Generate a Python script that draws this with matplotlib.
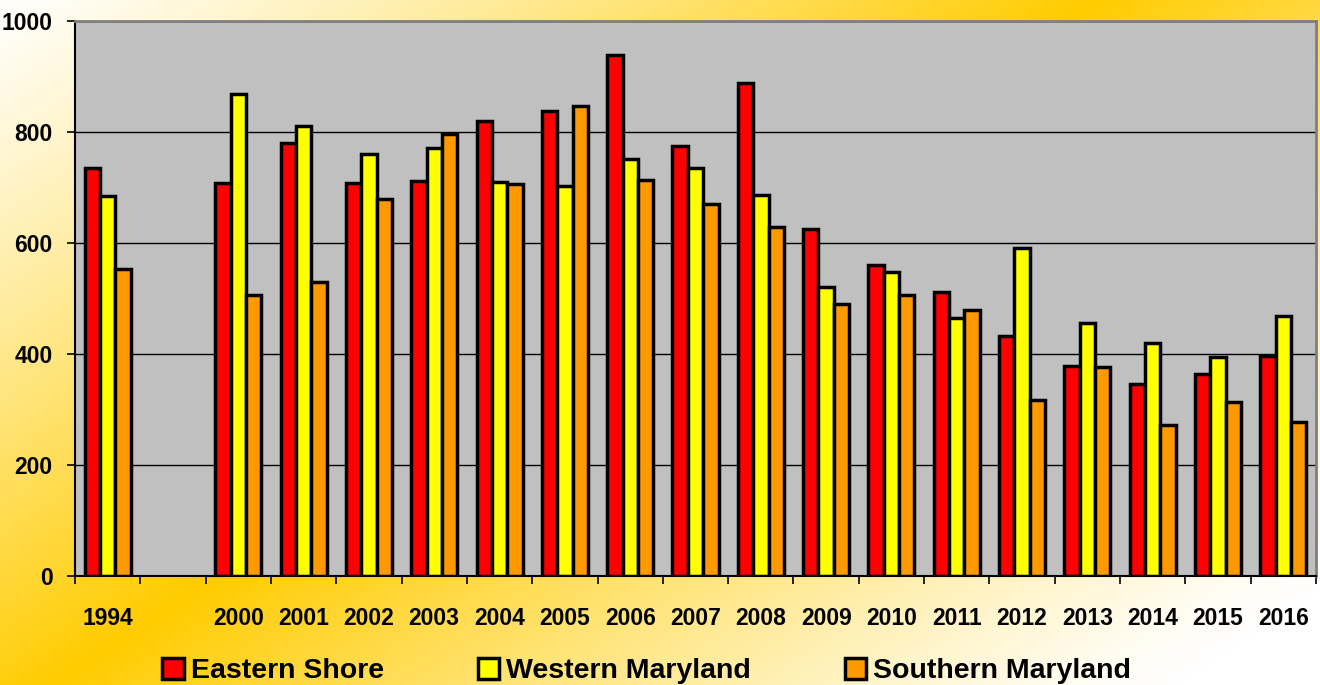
import matplotlib
matplotlib.use("Agg")
import matplotlib.pyplot as plt
import numpy as np
from matplotlib.patches import Patch
from matplotlib.ticker import FixedLocator

categories = ["1994", "", "2000", "2001", "2002", "2003", "2004", "2005", "2006",
              "2007", "2008", "2009", "2010", "2011", "2012", "2013", "2014", "2015", "2016"]
series_names = ["Eastern Shore", "Western Maryland", "Southern Maryland"]
eastern_shore = [735, np.nan, 708, 780, 708, 712, 820, 838, 939, 775, 888, 626, 560, 511, 432, 378, 346, 364, 396]
western_maryland = [685, np.nan, 868, 811, 760, 771, 710, 703, 751, 735, 686, 521, 548, 465, 591, 456, 420, 395, 468]
southern_maryland = [553, np.nan, 506, 530, 679, 796, 706, 847, 713, 670, 629, 490, 506, 479, 317, 377, 272, 313, 277]
y_ticks = [0, 200, 400, 600, 800, 1000]

colors = ["#FF0000", "#FFFF00", "#FF9900"]

plt.rcParams["font.family"] = ["Liberation Sans", "DejaVu Sans"]

fig = plt.figure(figsize=(13.2, 6.85), dpi=100)

# diagonal gradient background
bg = fig.add_axes([0, 0, 1, 1], zorder=-10)
xx, yy = np.meshgrid(np.linspace(0, 1, 660), np.linspace(0, 1, 343))
d = xx + 0.79 * yy - 0.83
t = np.clip(1 - np.abs(d) / 0.85, 0, 1) ** 1.2
white = np.array([1.0, 1.0, 1.0])
gold = np.array([1.0, 0.80, 0.0])
img = white + (gold - white) * t[..., None]
bg.imshow(img, aspect="auto", extent=[0, 1, 1, 0], interpolation="bilinear")
bg.set_xlim(0, 1)
bg.set_ylim(1, 0)
bg.axis("off")

ax = fig.add_axes([0.0568, 0.1591, 0.9402, 0.8102])
ax.set_facecolor("#C0C0C0")

x = np.arange(len(categories))
w = 0.235
for i, (vals, c) in enumerate(zip([eastern_shore, western_maryland, southern_maryland], colors)):
    vals = np.array(vals, dtype=float)
    mask = ~np.isnan(vals)
    ax.bar(x[mask] + (i - 1) * w, vals[mask], width=w, color=c, edgecolor="black",
           linewidth=2.5, zorder=3)

ax.set_xlim(-0.5, len(categories) - 0.5)
ax.set_ylim(0, 1000)
ax.set_yticks(y_ticks)
ax.set_yticklabels([str(v) for v in y_ticks], fontsize=16.5, fontweight="bold")
ax.set_xticks(x)
ax.set_xticklabels(categories, fontsize=16.5, fontweight="bold")
ax.xaxis.set_minor_locator(FixedLocator(np.arange(len(categories) + 1) - 0.5))
ax.tick_params(axis="x", which="major", length=0, pad=22)
ax.tick_params(axis="x", which="minor", length=6, width=1.2, direction="out")
ax.tick_params(axis="y", length=6, width=1.2, direction="out", pad=10)

ax.grid(axis="y", color="black", linewidth=1.0, zorder=1)
ax.set_axisbelow(True)
for side in ["top", "right"]:
    ax.spines[side].set_color("#7F7F7F")
    ax.spines[side].set_linewidth(2.0)
for side in ["left", "bottom"]:
    ax.spines[side].set_color("black")
    ax.spines[side].set_linewidth(1.5)

handles = [Patch(facecolor=c, edgecolor="black", linewidth=2.5) for c in colors]
fig.legend(handles, series_names, loc="center", bbox_to_anchor=(0.49, 0.02), ncol=3,
           frameon=False, prop={"weight": "bold", "size": 20.5},
           handlelength=0.75, handleheight=0.75, handletextpad=0.25, columnspacing=3.3)

fig.savefig("out.png", dpi=100)
plt.close(fig)
